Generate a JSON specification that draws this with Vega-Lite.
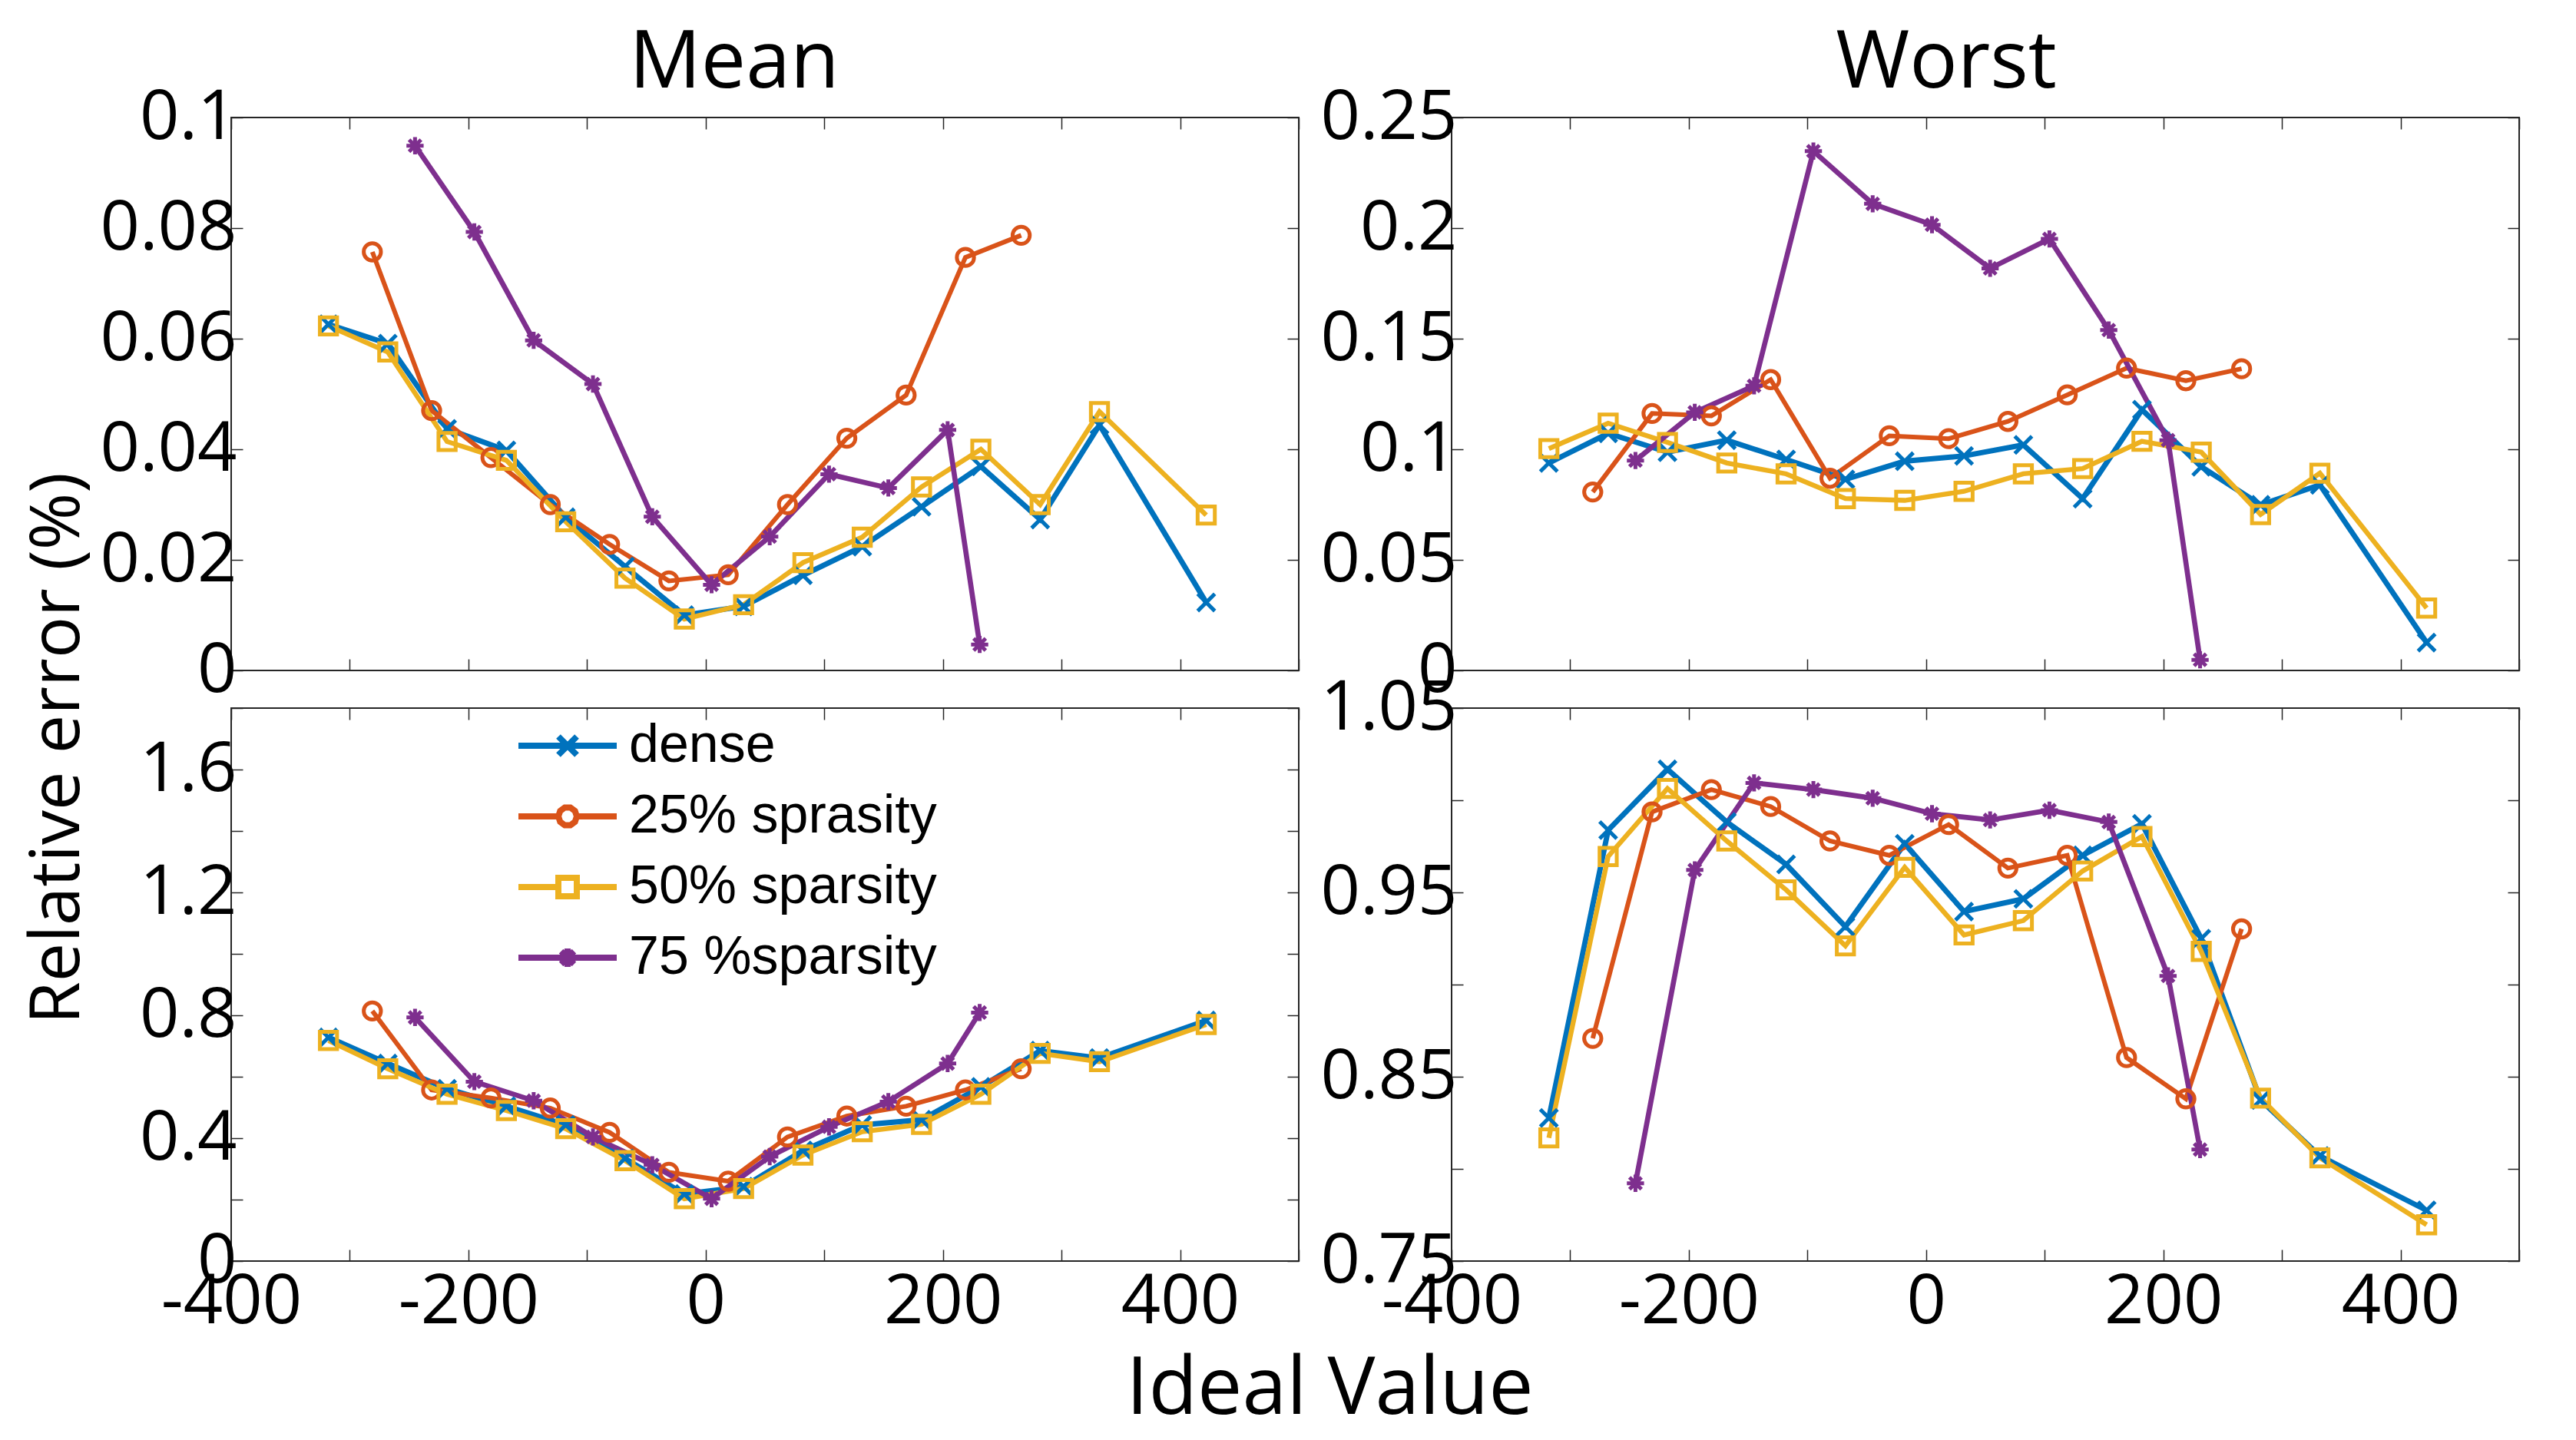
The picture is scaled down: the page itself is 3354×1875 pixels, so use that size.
{
  "$schema": "https://vega.github.io/schema/vega-lite/v6.json",
  "background": "white",
  "padding": {"left": 29, "top": 30, "right": 10, "bottom": 12},
  "datasets": {
    "d": [
      {"p":"a","s":"dense","x":-318,"y":0.0626},{"p":"a","s":"dense","x":-268,"y":0.0591},{"p":"a","s":"dense","x":-218,"y":0.0437},{"p":"a","s":"dense","x":-168,"y":0.0398},{"p":"a","s":"dense","x":-118,"y":0.0277},{"p":"a","s":"dense","x":-68,"y":0.0188},{"p":"a","s":"dense","x":-18,"y":0.0100},{"p":"a","s":"dense","x":32,"y":0.0116},{"p":"a","s":"dense","x":82,"y":0.0172},{"p":"a","s":"dense","x":132,"y":0.0224},{"p":"a","s":"dense","x":182,"y":0.0296},{"p":"a","s":"dense","x":232,"y":0.0369},{"p":"a","s":"dense","x":282,"y":0.0273},{"p":"a","s":"dense","x":332,"y":0.0444},{"p":"a","s":"dense","x":422,"y":0.0123},
      {"p":"a","s":"25% sprasity","x":-281,"y":0.0757},{"p":"a","s":"25% sprasity","x":-231,"y":0.0470},{"p":"a","s":"25% sprasity","x":-181,"y":0.0385},{"p":"a","s":"25% sprasity","x":-131,"y":0.0300},{"p":"a","s":"25% sprasity","x":-81,"y":0.0228},{"p":"a","s":"25% sprasity","x":-31,"y":0.0162},{"p":"a","s":"25% sprasity","x":19,"y":0.0173},{"p":"a","s":"25% sprasity","x":69,"y":0.0300},{"p":"a","s":"25% sprasity","x":119,"y":0.0420},{"p":"a","s":"25% sprasity","x":169,"y":0.0498},{"p":"a","s":"25% sprasity","x":219,"y":0.0747},{"p":"a","s":"25% sprasity","x":266,"y":0.0787},
      {"p":"a","s":"50% sparsity","x":-318,"y":0.0623},{"p":"a","s":"50% sparsity","x":-268,"y":0.0576},{"p":"a","s":"50% sparsity","x":-218,"y":0.0414},{"p":"a","s":"50% sparsity","x":-168,"y":0.0380},{"p":"a","s":"50% sparsity","x":-118,"y":0.0269},{"p":"a","s":"50% sparsity","x":-68,"y":0.0167},{"p":"a","s":"50% sparsity","x":-18,"y":0.0093},{"p":"a","s":"50% sparsity","x":32,"y":0.0119},{"p":"a","s":"50% sparsity","x":82,"y":0.0195},{"p":"a","s":"50% sparsity","x":132,"y":0.0241},{"p":"a","s":"50% sparsity","x":182,"y":0.0332},{"p":"a","s":"50% sparsity","x":232,"y":0.0400},{"p":"a","s":"50% sparsity","x":282,"y":0.0300},{"p":"a","s":"50% sparsity","x":332,"y":0.0468},{"p":"a","s":"50% sparsity","x":422,"y":0.0281},
      {"p":"a","s":"75 %sparsity","x":-245,"y":0.0949},{"p":"a","s":"75 %sparsity","x":-195,"y":0.0793},{"p":"a","s":"75 %sparsity","x":-145,"y":0.0597},{"p":"a","s":"75 %sparsity","x":-95,"y":0.0518},{"p":"a","s":"75 %sparsity","x":-45,"y":0.0278},{"p":"a","s":"75 %sparsity","x":5,"y":0.0155},{"p":"a","s":"75 %sparsity","x":54,"y":0.0242},{"p":"a","s":"75 %sparsity","x":104,"y":0.0355},{"p":"a","s":"75 %sparsity","x":154,"y":0.0330},{"p":"a","s":"75 %sparsity","x":204,"y":0.0435},{"p":"a","s":"75 %sparsity","x":231,"y":0.0047},

      {"p":"b","s":"dense","x":-318,"y":0.0938},{"p":"b","s":"dense","x":-268,"y":0.1072},{"p":"b","s":"dense","x":-218,"y":0.0987},{"p":"b","s":"dense","x":-168,"y":0.1041},{"p":"b","s":"dense","x":-118,"y":0.0954},{"p":"b","s":"dense","x":-68,"y":0.0864},{"p":"b","s":"dense","x":-18,"y":0.0946},{"p":"b","s":"dense","x":32,"y":0.0970},{"p":"b","s":"dense","x":82,"y":0.1020},{"p":"b","s":"dense","x":132,"y":0.0777},{"p":"b","s":"dense","x":182,"y":0.1179},{"p":"b","s":"dense","x":232,"y":0.0921},{"p":"b","s":"dense","x":282,"y":0.0749},{"p":"b","s":"dense","x":332,"y":0.0839},{"p":"b","s":"dense","x":422,"y":0.0126},
      {"p":"b","s":"25% sprasity","x":-281,"y":0.0807},{"p":"b","s":"25% sprasity","x":-231,"y":0.1162},{"p":"b","s":"25% sprasity","x":-181,"y":0.1151},{"p":"b","s":"25% sprasity","x":-131,"y":0.1315},{"p":"b","s":"25% sprasity","x":-81,"y":0.0869},{"p":"b","s":"25% sprasity","x":-31,"y":0.1061},{"p":"b","s":"25% sprasity","x":19,"y":0.1048},{"p":"b","s":"25% sprasity","x":69,"y":0.1126},{"p":"b","s":"25% sprasity","x":119,"y":0.1246},{"p":"b","s":"25% sprasity","x":169,"y":0.1367},{"p":"b","s":"25% sprasity","x":219,"y":0.1310},{"p":"b","s":"25% sprasity","x":266,"y":0.1364},
      {"p":"b","s":"50% sparsity","x":-318,"y":0.1003},{"p":"b","s":"50% sparsity","x":-268,"y":0.1118},{"p":"b","s":"50% sparsity","x":-218,"y":0.1031},{"p":"b","s":"50% sparsity","x":-168,"y":0.0938},{"p":"b","s":"50% sparsity","x":-118,"y":0.0889},{"p":"b","s":"50% sparsity","x":-68,"y":0.0777},{"p":"b","s":"50% sparsity","x":-18,"y":0.0769},{"p":"b","s":"50% sparsity","x":32,"y":0.0810},{"p":"b","s":"50% sparsity","x":82,"y":0.0889},{"p":"b","s":"50% sparsity","x":132,"y":0.0913},{"p":"b","s":"50% sparsity","x":182,"y":0.1036},{"p":"b","s":"50% sparsity","x":232,"y":0.0987},{"p":"b","s":"50% sparsity","x":282,"y":0.0705},{"p":"b","s":"50% sparsity","x":332,"y":0.0892},{"p":"b","s":"50% sparsity","x":422,"y":0.0282},
      {"p":"b","s":"75 %sparsity","x":-245,"y":0.0949},{"p":"b","s":"75 %sparsity","x":-195,"y":0.1167},{"p":"b","s":"75 %sparsity","x":-145,"y":0.1287},{"p":"b","s":"75 %sparsity","x":-95,"y":0.2348},{"p":"b","s":"75 %sparsity","x":-45,"y":0.2110},{"p":"b","s":"75 %sparsity","x":5,"y":0.2015},{"p":"b","s":"75 %sparsity","x":54,"y":0.1818},{"p":"b","s":"75 %sparsity","x":104,"y":0.1951},{"p":"b","s":"75 %sparsity","x":154,"y":0.1539},{"p":"b","s":"75 %sparsity","x":204,"y":0.1041},{"p":"b","s":"75 %sparsity","x":231,"y":0.0048},

      {"p":"c","s":"dense","x":-318,"y":0.728},{"p":"c","s":"dense","x":-268,"y":0.643},{"p":"c","s":"dense","x":-218,"y":0.561},{"p":"c","s":"dense","x":-168,"y":0.504},{"p":"c","s":"dense","x":-118,"y":0.443},{"p":"c","s":"dense","x":-68,"y":0.334},{"p":"c","s":"dense","x":-18,"y":0.218},{"p":"c","s":"dense","x":32,"y":0.242},{"p":"c","s":"dense","x":82,"y":0.360},{"p":"c","s":"dense","x":132,"y":0.443},{"p":"c","s":"dense","x":182,"y":0.460},{"p":"c","s":"dense","x":232,"y":0.567},{"p":"c","s":"dense","x":282,"y":0.685},{"p":"c","s":"dense","x":332,"y":0.661},{"p":"c","s":"dense","x":422,"y":0.783},
      {"p":"c","s":"25% sprasity","x":-281,"y":0.814},{"p":"c","s":"25% sprasity","x":-231,"y":0.557},{"p":"c","s":"25% sprasity","x":-181,"y":0.531},{"p":"c","s":"25% sprasity","x":-131,"y":0.498},{"p":"c","s":"25% sprasity","x":-81,"y":0.419},{"p":"c","s":"25% sprasity","x":-31,"y":0.289},{"p":"c","s":"25% sprasity","x":19,"y":0.260},{"p":"c","s":"25% sprasity","x":69,"y":0.404},{"p":"c","s":"25% sprasity","x":119,"y":0.472},{"p":"c","s":"25% sprasity","x":169,"y":0.504},{"p":"c","s":"25% sprasity","x":219,"y":0.557},{"p":"c","s":"25% sprasity","x":266,"y":0.626},
      {"p":"c","s":"50% sparsity","x":-318,"y":0.718},{"p":"c","s":"50% sparsity","x":-268,"y":0.626},{"p":"c","s":"50% sparsity","x":-218,"y":0.543},{"p":"c","s":"50% sparsity","x":-168,"y":0.490},{"p":"c","s":"50% sparsity","x":-118,"y":0.431},{"p":"c","s":"50% sparsity","x":-68,"y":0.327},{"p":"c","s":"50% sparsity","x":-18,"y":0.203},{"p":"c","s":"50% sparsity","x":32,"y":0.236},{"p":"c","s":"50% sparsity","x":82,"y":0.345},{"p":"c","s":"50% sparsity","x":132,"y":0.421},{"p":"c","s":"50% sparsity","x":182,"y":0.445},{"p":"c","s":"50% sparsity","x":232,"y":0.543},{"p":"c","s":"50% sparsity","x":282,"y":0.676},{"p":"c","s":"50% sparsity","x":332,"y":0.649},{"p":"c","s":"50% sparsity","x":422,"y":0.770},
      {"p":"c","s":"75 %sparsity","x":-245,"y":0.793},{"p":"c","s":"75 %sparsity","x":-195,"y":0.584},{"p":"c","s":"75 %sparsity","x":-145,"y":0.522},{"p":"c","s":"75 %sparsity","x":-95,"y":0.404},{"p":"c","s":"75 %sparsity","x":-45,"y":0.313},{"p":"c","s":"75 %sparsity","x":5,"y":0.203},{"p":"c","s":"75 %sparsity","x":54,"y":0.340},{"p":"c","s":"75 %sparsity","x":104,"y":0.437},{"p":"c","s":"75 %sparsity","x":154,"y":0.519},{"p":"c","s":"75 %sparsity","x":204,"y":0.643},{"p":"c","s":"75 %sparsity","x":231,"y":0.809},

      {"p":"d","s":"dense","x":-318,"y":0.8276},{"p":"d","s":"dense","x":-268,"y":0.9838},{"p":"d","s":"dense","x":-218,"y":1.0168},{"p":"d","s":"dense","x":-168,"y":0.9882},{"p":"d","s":"dense","x":-118,"y":0.9652},{"p":"d","s":"dense","x":-68,"y":0.9314},{"p":"d","s":"dense","x":-18,"y":0.9764},{"p":"d","s":"dense","x":32,"y":0.9396},{"p":"d","s":"dense","x":82,"y":0.9465},{"p":"d","s":"dense","x":132,"y":0.9701},{"p":"d","s":"dense","x":182,"y":0.9872},{"p":"d","s":"dense","x":232,"y":0.9249},{"p":"d","s":"dense","x":282,"y":0.8374},{"p":"d","s":"dense","x":332,"y":0.8070},{"p":"d","s":"dense","x":422,"y":0.7775},
      {"p":"d","s":"25% sprasity","x":-281,"y":0.8708},{"p":"d","s":"25% sprasity","x":-231,"y":0.9937},{"p":"d","s":"25% sprasity","x":-181,"y":1.0058},{"p":"d","s":"25% sprasity","x":-131,"y":0.9966},{"p":"d","s":"25% sprasity","x":-81,"y":0.9779},{"p":"d","s":"25% sprasity","x":-31,"y":0.9701},{"p":"d","s":"25% sprasity","x":19,"y":0.9868},{"p":"d","s":"25% sprasity","x":69,"y":0.9632},{"p":"d","s":"25% sprasity","x":119,"y":0.9701},{"p":"d","s":"25% sprasity","x":169,"y":0.8604},{"p":"d","s":"25% sprasity","x":219,"y":0.8380},{"p":"d","s":"25% sprasity","x":266,"y":0.9302},
      {"p":"d","s":"50% sparsity","x":-318,"y":0.8168},{"p":"d","s":"50% sparsity","x":-268,"y":0.9695},{"p":"d","s":"50% sparsity","x":-218,"y":1.0064},{"p":"d","s":"50% sparsity","x":-168,"y":0.9779},{"p":"d","s":"50% sparsity","x":-118,"y":0.9514},{"p":"d","s":"50% sparsity","x":-68,"y":0.9210},{"p":"d","s":"50% sparsity","x":-18,"y":0.9636},{"p":"d","s":"50% sparsity","x":32,"y":0.9269},{"p":"d","s":"50% sparsity","x":82,"y":0.9347},{"p":"d","s":"50% sparsity","x":132,"y":0.9616},{"p":"d","s":"50% sparsity","x":182,"y":0.9803},{"p":"d","s":"50% sparsity","x":232,"y":0.9180},{"p":"d","s":"50% sparsity","x":282,"y":0.8384},{"p":"d","s":"50% sparsity","x":332,"y":0.8060},{"p":"d","s":"50% sparsity","x":422,"y":0.7697},
      {"p":"d","s":"75 %sparsity","x":-245,"y":0.7922},{"p":"d","s":"75 %sparsity","x":-195,"y":0.9622},{"p":"d","s":"75 %sparsity","x":-145,"y":1.0094},{"p":"d","s":"75 %sparsity","x":-95,"y":1.0058},{"p":"d","s":"75 %sparsity","x":-45,"y":1.0011},{"p":"d","s":"75 %sparsity","x":5,"y":0.9927},{"p":"d","s":"75 %sparsity","x":54,"y":0.9893},{"p":"d","s":"75 %sparsity","x":104,"y":0.9946},{"p":"d","s":"75 %sparsity","x":154,"y":0.9882},{"p":"d","s":"75 %sparsity","x":204,"y":0.9047},{"p":"d","s":"75 %sparsity","x":231,"y":0.8105}
    ]
  },
  "columns": 2,
  "spacing": {"row": 49, "column": 199},
  "bounds": "flush",
  "resolve": {
    "scale": {"x": "independent", "y": "independent", "color": "independent", "stroke": "independent", "shape": "independent", "strokeWidth": "independent"},
    "legend": {"color": "independent", "stroke": "independent", "shape": "independent", "strokeWidth": "independent"}
  },
  "concat": [
    {
      "width": 1390, "height": 720,
      "title": {"text": "Mean", "dx": -40},
      "data": {"name": "d"},
      "transform": [{"filter": "datum.p == 'a'"}],
      "resolve": {"axis": {"x": "independent", "y": "independent"}},
      "layer": [
        {
          "mark": {"type": "line"},
          "encoding": {
            "x": {"field": "x", "type": "quantitative", "scale": {"domain": [-400, 500], "nice": false, "zero": false},
                  "axis": {"orient": "bottom", "values": [-400,-300,-200,-100,0,100,200,300,400,500], "labels": false, "title": null}},
            "y": {"field": "y", "type": "quantitative", "scale": {"domain": [0, 0.1], "nice": false, "zero": false},
                  "axis": {"orient": "left", "values": [0,0.02,0.04,0.06,0.08,0.1], "format": "~g", "labelPadding": 8,
                           "title": "Relative error (%)", "titleX": -270, "titleY": 821, "titleAngle": 270, "titleAlign": "center", "titleBaseline": "top", "titleFontSize": 90}},
            "stroke": {"field": "s", "type": "nominal", "scale": {"range": ["#D95319","#EDB120","#7E2F8E","#0072BD"]}, "legend": null},
            "strokeWidth": {"field": "s", "type": "nominal", "scale": {"range": [6,7,5,7]}, "legend": null}
          }
        },
        {
          "mark": {"type": "point", "filled": false, "strokeWidth": 5, "size": 500, "opacity": 1},
          "encoding": {
            "x": {"field": "x", "type": "quantitative", "axis": {"orient": "top", "values": [-400,-300,-200,-100,0,100,200,300,400,500], "labels": false, "title": null}},
            "y": {"field": "y", "type": "quantitative", "axis": {"orient": "right", "values": [0,0.02,0.04,0.06,0.08,0.1], "labels": false, "title": null}},
            "color": {"field": "s", "type": "nominal", "scale": {"domain": ["dense","25% sprasity","50% sparsity","75 %sparsity"], "range": ["#0072BD","#D95319","#EDB120","#7E2F8E"]}, "legend": null},
            "shape": {"field": "s", "type": "nominal", "scale": {"range": ["circle","square","M0,-1V1M-1,0H1M-0.7,-0.7L0.7,0.7M-0.7,0.7L0.7,-0.7","M-1,-1L1,1M-1,1L1,-1"]}, "legend": null}
          }
        }
      ]
    },
    {
      "width": 1390, "height": 720,
      "title": {"text": "Worst", "dx": -51},
      "data": {"name": "d"},
      "transform": [{"filter": "datum.p == 'b'"}],
      "resolve": {"axis": {"x": "independent", "y": "independent"}},
      "layer": [
        {
          "mark": {"type": "line"},
          "encoding": {
            "x": {"field": "x", "type": "quantitative", "scale": {"domain": [-400, 500], "nice": false, "zero": false},
                  "axis": {"orient": "bottom", "values": [-400,-300,-200,-100,0,100,200,300,400,500], "labels": false, "title": null}},
            "y": {"field": "y", "type": "quantitative", "scale": {"domain": [0, 0.25], "nice": false, "zero": false},
                  "axis": {"orient": "left", "values": [0,0.05,0.1,0.15,0.2,0.25], "format": "~g", "labelPadding": 8, "title": null}},
            "stroke": {"field": "s", "type": "nominal", "scale": {"range": ["#D95319","#EDB120","#7E2F8E","#0072BD"]}, "legend": null},
            "strokeWidth": {"field": "s", "type": "nominal", "scale": {"range": [6,7,5,7]}, "legend": null}
          }
        },
        {
          "mark": {"type": "point", "filled": false, "strokeWidth": 5, "size": 500, "opacity": 1},
          "encoding": {
            "x": {"field": "x", "type": "quantitative", "axis": {"orient": "top", "values": [-400,-300,-200,-100,0,100,200,300,400,500], "labels": false, "title": null}},
            "y": {"field": "y", "type": "quantitative", "axis": {"orient": "right", "values": [0,0.05,0.1,0.15,0.2,0.25], "labels": false, "title": null}},
            "color": {"field": "s", "type": "nominal", "scale": {"domain": ["dense","25% sprasity","50% sparsity","75 %sparsity"], "range": ["#0072BD","#D95319","#EDB120","#7E2F8E"]}, "legend": null},
            "shape": {"field": "s", "type": "nominal", "scale": {"range": ["circle","square","M0,-1V1M-1,0H1M-0.7,-0.7L0.7,0.7M-0.7,0.7L0.7,-0.7","M-1,-1L1,1M-1,1L1,-1"]}, "legend": null}
          }
        }
      ]
    },
    {
      "width": 1390, "height": 720,
      "data": {"name": "d"},
      "transform": [{"filter": "datum.p == 'c'"}],
      "resolve": {"axis": {"x": "independent", "y": "independent"}},
      "layer": [
        {
          "mark": {"type": "line"},
          "encoding": {
            "x": {"field": "x", "type": "quantitative", "scale": {"domain": [-400, 500], "nice": false, "zero": false},
                  "axis": {"orient": "bottom", "values": [-400,-300,-200,-100,0,100,200,300,400,500], "labelPadding": 24,
                           "labelExpr": "datum.value % 200 == 0 && datum.value < 500 ? (datum.value < 0 ? '-' : '') + abs(datum.value) : ''",
                           "title": "Ideal Value", "titleX": 1430, "titleY": 198, "titleAlign": "center", "titleBaseline": "alphabetic", "titleAngle": 0, "titleFontSize": 104}},
            "y": {"field": "y", "type": "quantitative", "scale": {"domain": [0, 1.8], "nice": false, "zero": false},
                  "axis": {"orient": "left", "values": [0,0.2,0.4,0.6,0.8,1,1.2,1.4,1.6,1.8], "labelPadding": 8,
                           "labelExpr": "round(datum.value*10) % 4 == 0 && datum.value < 1.7 ? format(datum.value, '~g') : ''", "title": null}},
            "stroke": {"field": "s", "type": "nominal", "scale": {"range": ["#D95319","#EDB120","#7E2F8E","#0072BD"]}, "legend": null},
            "strokeWidth": {"field": "s", "type": "nominal", "scale": {"range": [6,7,5,7]}, "legend": null}
          }
        },
        {
          "mark": {"type": "point", "filled": false, "strokeWidth": 5, "size": 500, "opacity": 1},
          "encoding": {
            "x": {"field": "x", "type": "quantitative", "axis": {"orient": "top", "values": [-400,-300,-200,-100,0,100,200,300,400,500], "labels": false, "title": null}},
            "y": {"field": "y", "type": "quantitative", "axis": {"orient": "right", "values": [0,0.2,0.4,0.6,0.8,1,1.2,1.4,1.6,1.8], "labels": false, "title": null}},
            "color": {"field": "s", "type": "nominal", "scale": {"domain": ["dense","25% sprasity","50% sparsity","75 %sparsity"], "range": ["#0072BD","#D95319","#EDB120","#7E2F8E"]},
                      "legend": {"orient": "none", "legendX": 403, "legendY": 14, "title": null, "padding": 0,
                                 "symbolSize": 1600, "symbolStrokeWidth": 8,
                                 "symbolType": {"expr": "datum.value == 'dense' ? 'M-3.2,0H3.2M-0.6,-0.6L0.6,0.6M-0.6,0.6L0.6,-0.6' : datum.value == '25% sprasity' ? 'M-3.2,0H-0.6M0.6,0H3.2M0.6,0L0.485,0.353L0.185,0.571L-0.185,0.571L-0.485,0.353L-0.6,0L-0.485,-0.353L-0.185,-0.571L0.185,-0.571L0.485,-0.353Z' : datum.value == '50% sparsity' ? 'M-3.2,0H-0.6M0.6,0H3.2M-0.6,-0.6H0.6V0.6H-0.6Z' : 'M-3.2,0H3.2M0,-0.6V0.6M-0.42,-0.42L0.42,0.42M-0.42,0.42L0.42,-0.42'"},
                                 "labelFont": "Liberation Sans", "labelFontSize": 70, "labelColor": "#000", "labelOffset": 45, "rowPadding": 22, "labelLimit": 2000}},
            "shape": {"field": "s", "type": "nominal", "scale": {"range": ["circle","square","M0,-1V1M-1,0H1M-0.7,-0.7L0.7,0.7M-0.7,0.7L0.7,-0.7","M-1,-1L1,1M-1,1L1,-1"]}, "legend": null}
          }
        }
      ]
    },
    {
      "width": 1390, "height": 720,
      "data": {"name": "d"},
      "transform": [{"filter": "datum.p == 'd'"}],
      "resolve": {"axis": {"x": "independent", "y": "independent"}},
      "layer": [
        {
          "mark": {"type": "line"},
          "encoding": {
            "x": {"field": "x", "type": "quantitative", "scale": {"domain": [-400, 500], "nice": false, "zero": false},
                  "axis": {"orient": "bottom", "values": [-400,-300,-200,-100,0,100,200,300,400,500], "labelPadding": 24,
                           "labelExpr": "datum.value % 200 == 0 && datum.value < 500 ? (datum.value < 0 ? '-' : '') + abs(datum.value) : ''", "title": null}},
            "y": {"field": "y", "type": "quantitative", "scale": {"domain": [0.75, 1.05], "nice": false, "zero": false},
                  "axis": {"orient": "left", "values": [0.75,0.8,0.85,0.9,0.95,1,1.05], "labelPadding": 8,
                           "labelExpr": "round(datum.value*100) % 10 == 5 ? format(datum.value, '~g') : ''", "title": null}},
            "stroke": {"field": "s", "type": "nominal", "scale": {"range": ["#D95319","#EDB120","#7E2F8E","#0072BD"]}, "legend": null},
            "strokeWidth": {"field": "s", "type": "nominal", "scale": {"range": [6,7,5,7]}, "legend": null}
          }
        },
        {
          "mark": {"type": "point", "filled": false, "strokeWidth": 5, "size": 500, "opacity": 1},
          "encoding": {
            "x": {"field": "x", "type": "quantitative", "axis": {"orient": "top", "values": [-400,-300,-200,-100,0,100,200,300,400,500], "labels": false, "title": null}},
            "y": {"field": "y", "type": "quantitative", "axis": {"orient": "right", "values": [0.75,0.8,0.85,0.9,0.95,1,1.05], "labels": false, "title": null}},
            "color": {"field": "s", "type": "nominal", "scale": {"domain": ["dense","25% sprasity","50% sparsity","75 %sparsity"], "range": ["#0072BD","#D95319","#EDB120","#7E2F8E"]}, "legend": null},
            "shape": {"field": "s", "type": "nominal", "scale": {"range": ["circle","square","M0,-1V1M-1,0H1M-0.7,-0.7L0.7,0.7M-0.7,0.7L0.7,-0.7","M-1,-1L1,1M-1,1L1,-1"]}, "legend": null}
          }
        }
      ]
    }
  ],
  "config": {
    "view": {"stroke": "#262626", "strokeWidth": 2},
    "axis": {
      "domain": false, "grid": false,
      "tickSize": -15, "tickColor": "#262626", "tickWidth": 1.5,
      "labelFont": "Open Sans", "labelFontSize": 90, "labelColor": "#000", "labelLimit": 1000,
      "labelFlush": false, "labelOverlap": false, "labelBound": false,
      "titleFont": "Open Sans", "titleFontWeight": "normal", "titleColor": "#000", "titleLimit": 3000
    },
    "title": {"font": "Open Sans", "fontSize": 104, "fontWeight": "normal", "color": "#000", "anchor": "middle", "frame": "group", "baseline": "alphabetic", "offset": -28}
  }
}
